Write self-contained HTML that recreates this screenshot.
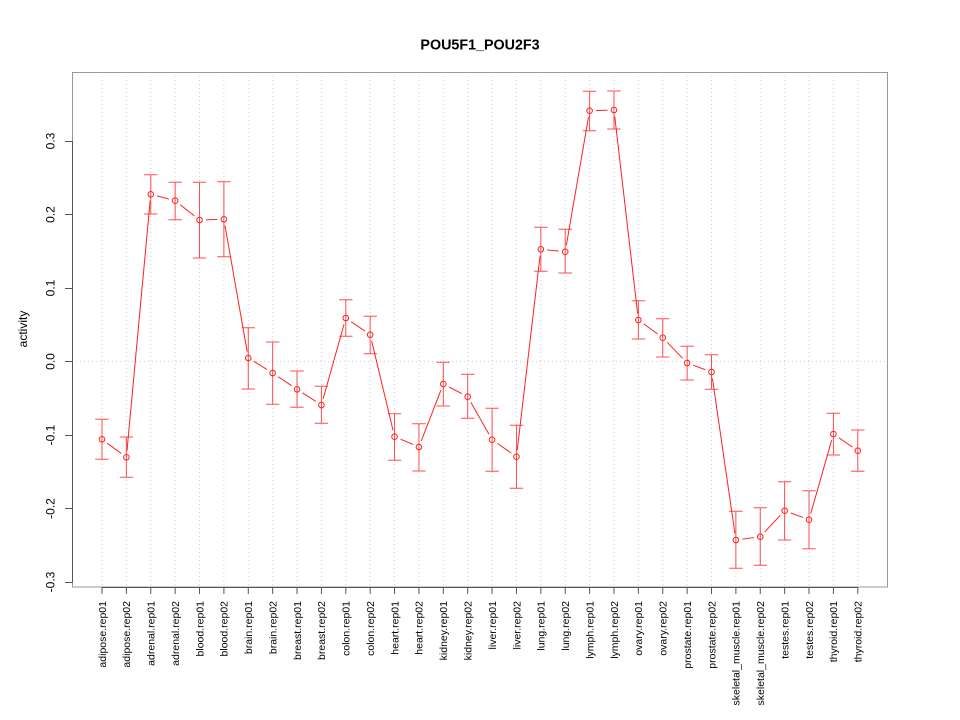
<!DOCTYPE html>
<html><head><meta charset="utf-8"><style>
html,body{margin:0;padding:0;background:#fff;}
svg{display:block;font-family:"Liberation Sans",Arial,sans-serif;}
</style></head><body>
<svg width="960" height="720" viewBox="0 0 960 720" xmlns="http://www.w3.org/2000/svg">
<defs>
<mask id="m" maskUnits="userSpaceOnUse" x="0" y="0" width="960" height="720">
<rect x="0" y="0" width="960" height="720" fill="#fff"/>
<g fill="#000">
<circle cx="102" cy="439.3" r="6.5"/><circle cx="126.38" cy="457.3" r="6.5"/><circle cx="150.76" cy="194.3" r="6.5"/><circle cx="175.14" cy="200.7" r="6.5"/><circle cx="199.52" cy="220" r="6.5"/><circle cx="223.9" cy="219.3" r="6.5"/><circle cx="248.28" cy="358" r="6.5"/><circle cx="272.66" cy="373" r="6.5"/><circle cx="297.04" cy="389.3" r="6.5"/><circle cx="321.42" cy="405" r="6.5"/><circle cx="345.8" cy="318" r="6.5"/><circle cx="370.18" cy="334.7" r="6.5"/><circle cx="394.56" cy="436.7" r="6.5"/><circle cx="418.94" cy="447" r="6.5"/><circle cx="443.32" cy="384" r="6.5"/><circle cx="467.7" cy="396.7" r="6.5"/><circle cx="492.08" cy="439.7" r="6.5"/><circle cx="516.46" cy="456.7" r="6.5"/><circle cx="540.84" cy="249.3" r="6.5"/><circle cx="565.22" cy="251.7" r="6.5"/><circle cx="589.6" cy="110.7" r="6.5"/><circle cx="613.98" cy="110" r="6.5"/><circle cx="638.36" cy="320" r="6.5"/><circle cx="662.74" cy="337.7" r="6.5"/><circle cx="687.12" cy="363" r="6.5"/><circle cx="711.5" cy="372" r="6.5"/><circle cx="735.88" cy="540" r="6.5"/><circle cx="760.26" cy="536.7" r="6.5"/><circle cx="784.64" cy="510.7" r="6.5"/><circle cx="809.02" cy="519.7" r="6.5"/><circle cx="833.4" cy="434" r="6.5"/><circle cx="857.78" cy="450.7" r="6.5"/>
</g>
</mask>
</defs>
<rect width="960" height="720" fill="#fff"/>

<!-- grid -->
<g stroke="#cfcfcf" stroke-width="1" stroke-dasharray="1,3">
<line x1="102" y1="72" x2="102" y2="587"/><line x1="126.38" y1="72" x2="126.38" y2="587"/><line x1="150.76" y1="72" x2="150.76" y2="587"/><line x1="175.14" y1="72" x2="175.14" y2="587"/><line x1="199.52" y1="72" x2="199.52" y2="587"/><line x1="223.9" y1="72" x2="223.9" y2="587"/><line x1="248.28" y1="72" x2="248.28" y2="587"/><line x1="272.66" y1="72" x2="272.66" y2="587"/><line x1="297.04" y1="72" x2="297.04" y2="587"/><line x1="321.42" y1="72" x2="321.42" y2="587"/><line x1="345.8" y1="72" x2="345.8" y2="587"/><line x1="370.18" y1="72" x2="370.18" y2="587"/><line x1="394.56" y1="72" x2="394.56" y2="587"/><line x1="418.94" y1="72" x2="418.94" y2="587"/><line x1="443.32" y1="72" x2="443.32" y2="587"/><line x1="467.7" y1="72" x2="467.7" y2="587"/><line x1="492.08" y1="72" x2="492.08" y2="587"/><line x1="516.46" y1="72" x2="516.46" y2="587"/><line x1="540.84" y1="72" x2="540.84" y2="587"/><line x1="565.22" y1="72" x2="565.22" y2="587"/><line x1="589.6" y1="72" x2="589.6" y2="587"/><line x1="613.98" y1="72" x2="613.98" y2="587"/><line x1="638.36" y1="72" x2="638.36" y2="587"/><line x1="662.74" y1="72" x2="662.74" y2="587"/><line x1="687.12" y1="72" x2="687.12" y2="587"/><line x1="711.5" y1="72" x2="711.5" y2="587"/><line x1="735.88" y1="72" x2="735.88" y2="587"/><line x1="760.26" y1="72" x2="760.26" y2="587"/><line x1="784.64" y1="72" x2="784.64" y2="587"/><line x1="809.02" y1="72" x2="809.02" y2="587"/><line x1="833.4" y1="72" x2="833.4" y2="587"/><line x1="857.78" y1="72" x2="857.78" y2="587"/>
<line x1="72" y1="361.5" x2="888" y2="361.5"/>
</g>

<!-- error bars -->
<g stroke="#ff3030" stroke-width="1" fill="none" opacity="0.85">
<path d="M102 419.3V459.3M95.3 419.3H108.7M95.3 459.3H108.7"/>
<path d="M126.38 437V477.3M119.68 437H133.08M119.68 477.3H133.08"/>
<path d="M150.76 174.7V214M144.06 174.7H157.46M144.06 214H157.46"/>
<path d="M175.14 182.3V219.7M168.44 182.3H181.84M168.44 219.7H181.84"/>
<path d="M199.52 182.3V258M192.82 182.3H206.22M192.82 258H206.22"/>
<path d="M223.9 181.7V256.7M217.2 181.7H230.6M217.2 256.7H230.6"/>
<path d="M248.28 327.7V389M241.58 327.7H254.98M241.58 389H254.98"/>
<path d="M272.66 342V404.3M265.96 342H279.36M265.96 404.3H279.36"/>
<path d="M297.04 371V407.3M290.34 371H303.74M290.34 407.3H303.74"/>
<path d="M321.42 386.3V423.3M314.72 386.3H328.12M314.72 423.3H328.12"/>
<path d="M345.8 299.7V336.3M339.1 299.7H352.5M339.1 336.3H352.5"/>
<path d="M370.18 316.3V353.7M363.48 316.3H376.88M363.48 353.7H376.88"/>
<path d="M394.56 413.7V460.3M387.86 413.7H401.26M387.86 460.3H401.26"/>
<path d="M418.94 423.7V471M412.24 423.7H425.64M412.24 471H425.64"/>
<path d="M443.32 362.3V406M436.62 362.3H450.02M436.62 406H450.02"/>
<path d="M467.7 374.3V418.3M461 374.3H474.4M461 418.3H474.4"/>
<path d="M492.08 408.3V471.3M485.38 408.3H498.78M485.38 471.3H498.78"/>
<path d="M516.46 425.3V488.3M509.76 425.3H523.16M509.76 488.3H523.16"/>
<path d="M540.84 227.3V271.3M534.14 227.3H547.54M534.14 271.3H547.54"/>
<path d="M565.22 229.3V273M558.52 229.3H571.92M558.52 273H571.92"/>
<path d="M589.6 91.3V130.7M582.9 91.3H596.3M582.9 130.7H596.3"/>
<path d="M613.98 91V129M607.28 91H620.68M607.28 129H620.68"/>
<path d="M638.36 300.7V339M631.66 300.7H645.06M631.66 339H645.06"/>
<path d="M662.74 318.7V357M656.04 318.7H669.44M656.04 357H669.44"/>
<path d="M687.12 346.3V380M680.42 346.3H693.82M680.42 380H693.82"/>
<path d="M711.5 354.7V389.3M704.8 354.7H718.2M704.8 389.3H718.2"/>
<path d="M735.88 511.3V568.3M729.18 511.3H742.58M729.18 568.3H742.58"/>
<path d="M760.26 507.7V565.3M753.56 507.7H766.96M753.56 565.3H766.96"/>
<path d="M784.64 481.7V540M777.94 481.7H791.34M777.94 540H791.34"/>
<path d="M809.02 490.7V548.7M802.32 490.7H815.72M802.32 548.7H815.72"/>
<path d="M833.4 413.3V455M826.7 413.3H840.1M826.7 455H840.1"/>
<path d="M857.78 430V471.3M851.08 430H864.48M851.08 471.3H864.48"/>
</g>

<!-- connecting line -->
<polyline mask="url(#m)" fill="none" stroke="#ff2020" stroke-width="1" points="102,439.3 126.38,457.3 150.76,194.3 175.14,200.7 199.52,220 223.9,219.3 248.28,358 272.66,373 297.04,389.3 321.42,405 345.8,318 370.18,334.7 394.56,436.7 418.94,447 443.32,384 467.7,396.7 492.08,439.7 516.46,456.7 540.84,249.3 565.22,251.7 589.6,110.7 613.98,110 638.36,320 662.74,337.7 687.12,363 711.5,372 735.88,540 760.26,536.7 784.64,510.7 809.02,519.7 833.4,434 857.78,450.7"/>

<!-- points -->
<g fill="none" stroke="#ff2020" stroke-width="1">
<circle cx="102" cy="439.3" r="2.8"/><circle cx="126.38" cy="457.3" r="2.8"/><circle cx="150.76" cy="194.3" r="2.8"/><circle cx="175.14" cy="200.7" r="2.8"/><circle cx="199.52" cy="220" r="2.8"/><circle cx="223.9" cy="219.3" r="2.8"/><circle cx="248.28" cy="358" r="2.8"/><circle cx="272.66" cy="373" r="2.8"/><circle cx="297.04" cy="389.3" r="2.8"/><circle cx="321.42" cy="405" r="2.8"/><circle cx="345.8" cy="318" r="2.8"/><circle cx="370.18" cy="334.7" r="2.8"/><circle cx="394.56" cy="436.7" r="2.8"/><circle cx="418.94" cy="447" r="2.8"/><circle cx="443.32" cy="384" r="2.8"/><circle cx="467.7" cy="396.7" r="2.8"/><circle cx="492.08" cy="439.7" r="2.8"/><circle cx="516.46" cy="456.7" r="2.8"/><circle cx="540.84" cy="249.3" r="2.8"/><circle cx="565.22" cy="251.7" r="2.8"/><circle cx="589.6" cy="110.7" r="2.8"/><circle cx="613.98" cy="110" r="2.8"/><circle cx="638.36" cy="320" r="2.8"/><circle cx="662.74" cy="337.7" r="2.8"/><circle cx="687.12" cy="363" r="2.8"/><circle cx="711.5" cy="372" r="2.8"/><circle cx="735.88" cy="540" r="2.8"/><circle cx="760.26" cy="536.7" r="2.8"/><circle cx="784.64" cy="510.7" r="2.8"/><circle cx="809.02" cy="519.7" r="2.8"/><circle cx="833.4" cy="434" r="2.8"/><circle cx="857.78" cy="450.7" r="2.8"/>
</g>

<!-- box -->
<rect x="72.5" y="72.5" width="815" height="514.5" fill="none" stroke="#999" stroke-width="1"/>
<!-- axes -->
<g stroke="#555" stroke-width="1" fill="none">
<path d="M72.5 141V582"/>
<path d="M65 141.5H72.5M65 214.5H72.5M65 288.5H72.5M65 361.5H72.5M65 435.5H72.5M65 508.5H72.5M65 582.5H72.5"/>
<path d="M102 587.5H857.78"/>
<path d="M102 587V594M126.38 587V594M150.76 587V594M175.14 587V594M199.52 587V594M223.9 587V594M248.28 587V594M272.66 587V594M297.04 587V594M321.42 587V594M345.8 587V594M370.18 587V594M394.56 587V594M418.94 587V594M443.32 587V594M467.7 587V594M492.08 587V594M516.46 587V594M540.84 587V594M565.22 587V594M589.6 587V594M613.98 587V594M638.36 587V594M662.74 587V594M687.12 587V594M711.5 587V594M735.88 587V594M760.26 587V594M784.64 587V594M809.02 587V594M833.4 587V594M857.78 587V594"/>
</g>

<!-- y tick labels -->
<g font-size="12" fill="#000" text-anchor="middle">
<text transform="translate(54.5,141) rotate(-90)">0.3</text>
<text transform="translate(54.5,214.5) rotate(-90)">0.2</text>
<text transform="translate(54.5,288) rotate(-90)">0.1</text>
<text transform="translate(54.5,361.5) rotate(-90)">0.0</text>
<text transform="translate(54.5,435) rotate(-90)">-0.1</text>
<text transform="translate(54.5,508.5) rotate(-90)">-0.2</text>
<text transform="translate(54.5,582) rotate(-90)">-0.3</text>
</g>
<text transform="translate(27,329) rotate(-90)" font-size="12" text-anchor="middle" fill="#000">activity</text>

<!-- x tick labels -->
<g font-size="10.5" fill="#000" text-anchor="end">
<text transform="translate(105.8,601) rotate(-90)">adipose.rep01</text>
<text transform="translate(130.18,601) rotate(-90)">adipose.rep02</text>
<text transform="translate(154.56,601) rotate(-90)">adrenal.rep01</text>
<text transform="translate(178.94,601) rotate(-90)">adrenal.rep02</text>
<text transform="translate(203.32,601) rotate(-90)">blood.rep01</text>
<text transform="translate(227.7,601) rotate(-90)">blood.rep02</text>
<text transform="translate(252.08,601) rotate(-90)">brain.rep01</text>
<text transform="translate(276.46,601) rotate(-90)">brain.rep02</text>
<text transform="translate(300.84,601) rotate(-90)">breast.rep01</text>
<text transform="translate(325.22,601) rotate(-90)">breast.rep02</text>
<text transform="translate(349.6,601) rotate(-90)">colon.rep01</text>
<text transform="translate(373.98,601) rotate(-90)">colon.rep02</text>
<text transform="translate(398.36,601) rotate(-90)">heart.rep01</text>
<text transform="translate(422.74,601) rotate(-90)">heart.rep02</text>
<text transform="translate(447.12,601) rotate(-90)">kidney.rep01</text>
<text transform="translate(471.5,601) rotate(-90)">kidney.rep02</text>
<text transform="translate(495.88,601) rotate(-90)">liver.rep01</text>
<text transform="translate(520.26,601) rotate(-90)">liver.rep02</text>
<text transform="translate(544.64,601) rotate(-90)">lung.rep01</text>
<text transform="translate(569.02,601) rotate(-90)">lung.rep02</text>
<text transform="translate(593.4,601) rotate(-90)">lymph.rep01</text>
<text transform="translate(617.78,601) rotate(-90)">lymph.rep02</text>
<text transform="translate(642.16,601) rotate(-90)">ovary.rep01</text>
<text transform="translate(666.54,601) rotate(-90)">ovary.rep02</text>
<text transform="translate(690.92,601) rotate(-90)">prostate.rep01</text>
<text transform="translate(715.3,601) rotate(-90)">prostate.rep02</text>
<text transform="translate(739.68,601) rotate(-90)">skeletal_muscle.rep01</text>
<text transform="translate(764.06,601) rotate(-90)">skeletal_muscle.rep02</text>
<text transform="translate(788.44,601) rotate(-90)">testes.rep01</text>
<text transform="translate(812.82,601) rotate(-90)">testes.rep02</text>
<text transform="translate(837.2,601) rotate(-90)">thyroid.rep01</text>
<text transform="translate(861.58,601) rotate(-90)">thyroid.rep02</text>
</g>

<!-- title -->
<text x="480" y="49.5" font-size="14.3" font-weight="bold" text-anchor="middle" fill="#000">POU5F1_POU2F3</text>
</svg>
</body></html>
